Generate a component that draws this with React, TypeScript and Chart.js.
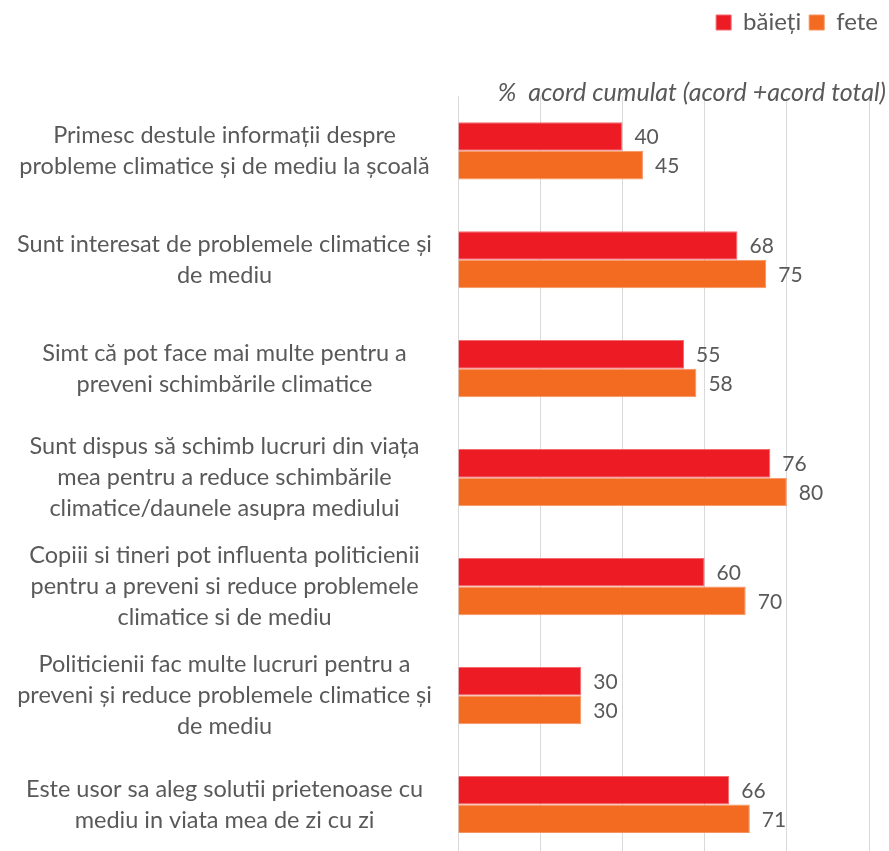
import React, { useEffect, useRef } from "react";
import { Chart, registerables } from "chart.js";

Chart.register(...registerables);

const categories: string[][] = [
  ["Primesc destule informații despre", "probleme climatice și de mediu la școală"],
  ["Sunt interesat de problemele climatice și", "de mediu"],
  ["Simt că pot face mai multe pentru a", "preveni schimbările climatice"],
  ["Sunt dispus să schimb lucruri din viața", "mea pentru a reduce schimbările", "climatice/daunele asupra mediului"],
  ["Copiii si tineri pot influenta politicienii", "pentru a preveni si reduce problemele", "climatice si de mediu"],
  ["Politicienii fac multe lucruri pentru a", "preveni și reduce problemele climatice și", "de mediu"],
  ["Este usor sa aleg solutii prietenoase cu", "mediu in viata mea de zi cu zi"],
];
const baieti: number[] = [40, 68, 55, 76, 60, 30, 66];
const fete: number[] = [45, 75, 58, 80, 70, 30, 71];
const seriesNames: string[] = ["băieți", "fete"];
const titleText = "%  acord cumulat (acord +acord total)";

const FONT = "Lato, 'Open Sans', sans-serif";
const GRAY = "#595959";

const valueLabels = {
  id: "valueLabels",
  afterDatasetsDraw(chart: any) {
    const ctx = chart.ctx;
    ctx.save();
    ctx.font = `21px ${FONT}`;
    ctx.fillStyle = GRAY;
    ctx.textAlign = "left";
    ctx.textBaseline = "middle";
    chart.data.datasets.forEach((ds: any, i: number) => {
      const meta = chart.getDatasetMeta(i);
      meta.data.forEach((bar: any, j: number) => {
        ctx.fillText(String(ds.data[j]), bar.x + 12, bar.y + 1);
      });
    });
    ctx.restore();
  },
};

export default function App() {
  const ref = useRef<HTMLCanvasElement>(null);
  useEffect(() => {
    if (!ref.current) return;
    const chart = new Chart(ref.current, {
      type: "bar",
      data: {
        labels: categories,
        datasets: [
          {
            label: seriesNames[0],
            data: baieti,
            backgroundColor: "#ED1C24",
            borderColor: "#F26B6F",
            borderWidth: 1,
            categoryPercentage: 0.525,
            barPercentage: 1,
          },
          {
            label: seriesNames[1],
            data: fete,
            backgroundColor: "#F26B21",
            borderColor: "#F59360",
            borderWidth: 1,
            categoryPercentage: 0.525,
            barPercentage: 1,
          },
        ],
      },
      options: {
        indexAxis: "y",
        animation: false,
        responsive: false,
        maintainAspectRatio: false,
        layout: { padding: { top: 2.5, right: 3, left: 0, bottom: 0 } },
        scales: {
          x: {
            min: 0,
            max: 100,
            ticks: { display: false, stepSize: 20 },
            grid: { color: "#D9D9D9", lineWidth: 1, drawTicks: false },
            border: { display: false },
          },
          y: {
            ticks: {
              crossAlign: "center",
              color: GRAY,
              font: { family: FONT, size: 23.5, lineHeight: 1.32 },
              padding: 26,
              autoSkip: false,
            },
            grid: { display: false, drawTicks: false },
            border: { display: false },
            afterFit: (scale: any) => {
              scale.width = 458;
              scale.paddingTop = 0;
              scale.paddingBottom = 0;
            },
          },
          y2: {
            type: "linear",
            position: "right",
            display: true,
            ticks: { display: false },
            grid: { display: false, drawTicks: false },
            border: { display: false },
            afterFit: (scale: any) => {
              scale.width = 17;
            },
          },
        },
        plugins: {
          legend: {
            position: "top",
            align: "end",
            labels: {
              boxWidth: 15,
              boxHeight: 15,
              color: GRAY,
              font: { family: FONT, size: 24 },
              padding: 8,
            },
          },
          title: {
            display: true,
            text: titleText,
            align: "end",
            position: "top",
            weight: 500,
            color: GRAY,
            font: { family: FONT, size: 25, style: "italic", weight: "normal", lineHeight: 1.2 },
            padding: { top: 33.5, bottom: -11.7 },
          },
          tooltip: { enabled: false },
        },
      } as any,
      plugins: [valueLabels],
    });
    return () => chart.destroy();
  }, []);
  return (
    <div style={{ position: "fixed", left: 0, top: 0, width: 889, height: 859, background: "#fff" }}>
      <canvas ref={ref} width={889} height={859} style={{ width: 889, height: 859 }} />
    </div>
  );
}
